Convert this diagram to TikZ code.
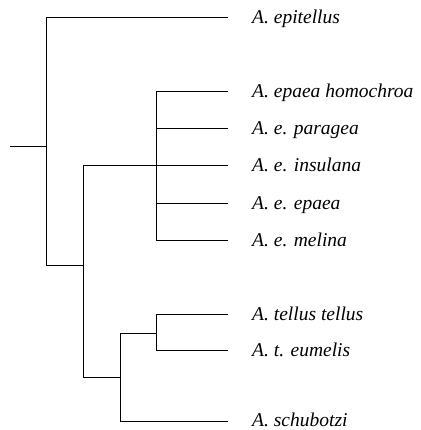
\documentclass[tikz,border=0pt]{standalone}
\usepackage{fontspec}
\setmainfont{Liberation Serif}
\usepackage{tikz}

\tikzset{
  branch/.style={line width=0.8pt},
  taxon/.style={anchor=base west, inner sep=0pt, yshift=-6.4pt,
    font=\fontsize{19.5}{24}\selectfont\itshape}
}

\begin{document}
\begin{tikzpicture}[x=1pt,y=-1pt]
\useasboundingbox (0,0) rectangle (420,430);
% internal nodes
\coordinate (root) at (10,146);
\coordinate (n1) at (46,146);
\coordinate (n2) at (83,265);
\coordinate (n3) at (156,165);
\coordinate (n4) at (120,377);
\coordinate (n5) at (156,333);
% taxa
\node[taxon] (epit) at (252,17) {A. epitellus};
\node[taxon] (homo) at (252,91) {A. epaea homochroa};
\node[taxon] (para) at (252,128) {A. e. paragea};
\node[taxon] (insu) at (252,165) {A. e. insulana};
\node[taxon] (epae) at (252,203) {A. e. epaea};
\node[taxon] (meli) at (252,240) {A. e. melina};
\node[taxon] (tell) at (252,314) {A. tellus tellus};
\node[taxon] (eume) at (252,350) {A. t. eumelis};
\node[taxon] (schu) at (252,420) {A. schubotzi};
% leaf tips
\foreach \t/\y in {epit/17,homo/91,para/128,insu/165,epae/203,meli/240,tell/314,eume/350,schu/421}
  \coordinate (\t-tip) at (228,\y);
% branches
\draw[branch] (root) -- (n1);
\draw[branch] (n1) |- (epit-tip);
\draw[branch] (n1) |- (n2);
\draw[branch] (n2) |- (n3);
\draw[branch] (n2) |- (n4);
\foreach \t in {homo,para,insu,epae,meli}
  \draw[branch] (n3) |- (\t-tip);
\draw[branch] (n4) |- (n5);
\draw[branch] (n4) |- (schu-tip);
\draw[branch] (n5) |- (tell-tip);
\draw[branch] (n5) |- (eume-tip);
\end{tikzpicture}
\end{document}
